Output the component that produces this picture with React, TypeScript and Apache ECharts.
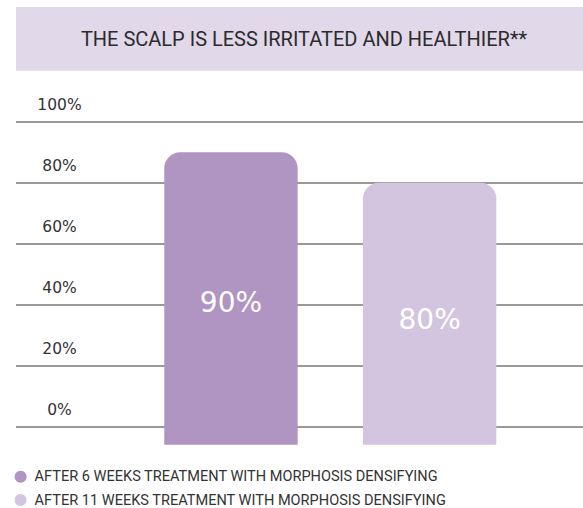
import React, { useEffect, useRef } from "react";
import * as echarts from "echarts";

const titleText = "THE SCALP IS LESS IRRITATED AND HEALTHIER**";
const categories = ["6 weeks", "11 weeks"];
const seriesNames = [
  "AFTER 6 WEEKS TREATMENT WITH MORPHOSIS DENSIFYING",
  "AFTER 11 WEEKS TREATMENT WITH MORPHOSIS DENSIFYING",
];
const values6Weeks = [90, "-"];
const values11Weeks = ["-", 80];
const barLabels = ["90%", "80%"];
const tickLabels = ["0%", "20%", "40%", "60%", "80%", "100%"];
const colors = ["#b094c2", "#d3c5df"];

export default function App() {
  const ref = useRef<HTMLDivElement>(null);
  useEffect(() => {
    if (!ref.current) return;
    const chart = echarts.init(ref.current, null, { renderer: "svg" });
    const gridTop = 121.7;
    const gridHeight = 305;
    const barStyle = (color: string) => ({
      color,
      borderWidth: 0,
      borderRadius: [16, 16, 0, 0],
    });
    const labelStyle = (dy: number) => ({
      show: true,
      position: "inside",
      offset: [0, dy],
      fontFamily: "DejaVu Sans",
      fontSize: 28,
      color: "#fff",
      formatter: (p: any) => barLabels[p.dataIndex],
    });
    chart.setOption({
      animation: false,
      graphic: [
        {
          type: "rect",
          z: 0,
          shape: { x: 16, y: 7, width: 567, height: 63.7 },
          style: { fill: "#e1d8ea" },
        },
        {
          type: "text",
          z: 1,
          x: 304,
          y: 38.5,
          style: {
            text: titleText,
            fontFamily: "Roboto",
            fontSize: 20,
            fill: "#2b2b2b",
            align: "center",
            verticalAlign: "middle",
          },
        },
      ],
      legend: {
        orient: "vertical",
        left: 14.6,
        top: 468.7,
        padding: 0,
        itemGap: 7.3,
        itemWidth: 18,
        itemHeight: 12,
        icon: "circle",
        selectedMode: false,
        textStyle: {
          fontFamily: "Roboto",
          fontSize: 14.55,
          color: "#333",
          lineHeight: 16,
        },
        data: seriesNames,
      },
      grid: [
        { left: 16, right: 0, top: gridTop, height: gridHeight },
        { left: 131.6, width: 397.4, top: gridTop, height: gridHeight },
      ],
      xAxis: [
        { gridIndex: 0, type: "category", data: categories, show: false },
        { gridIndex: 1, type: "category", data: categories, show: false },
      ],
      yAxis: [
        {
          gridIndex: 0,
          type: "value",
          min: 0,
          max: 100,
          interval: 20,
          axisLine: { show: false },
          axisTick: { show: false },
          splitLine: { show: true, lineStyle: { color: "#777", width: 1.5 } },
          axisLabel: {
            inside: true,
            margin: 43.5,
            align: "center",
            verticalAlign: "bottom",
            lineHeight: 16,
            padding: [0, 0, 8.5, 0],
            fontFamily: "DejaVu Sans",
            fontSize: 15.5,
            color: "#333",
            formatter: (v: number) => tickLabels[Math.round(v / 20)],
          },
        },
        {
          gridIndex: 1,
          type: "value",
          min: 0,
          max: 100,
          startValue: -5.9,
          show: false,
          splitLine: { show: false },
        },
      ],
      series: [
        {
          name: seriesNames[0],
          type: "bar",
          xAxisIndex: 1,
          yAxisIndex: 1,
          data: values6Weeks,
          barWidth: 133.4,
          barGap: "-100%",
          clip: false,
          itemStyle: barStyle(colors[0]),
          label: labelStyle(4),
        },
        {
          name: seriesNames[1],
          type: "bar",
          xAxisIndex: 1,
          yAxisIndex: 1,
          data: values11Weeks,
          barWidth: 133.4,
          barGap: "-100%",
          clip: false,
          itemStyle: barStyle(colors[1]),
          label: labelStyle(6),
        },
      ],
    });
    return () => chart.dispose();
  }, []);
  return (
    <div
      ref={ref}
      style={{ position: "absolute", left: 0, top: 0, width: 583, height: 508, background: "#fff" }}
    />
  );
}
